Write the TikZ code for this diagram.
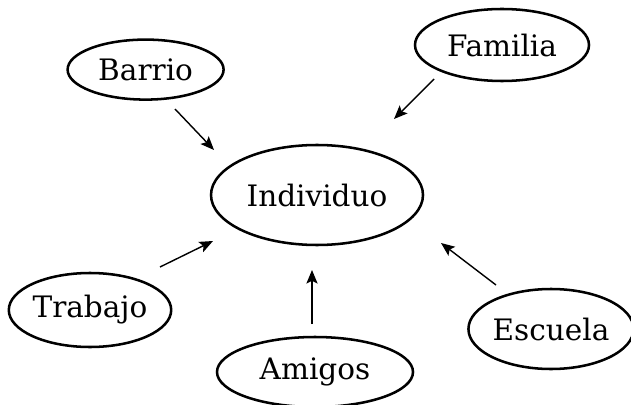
\documentclass[tikz,border=0pt]{standalone}
\usepackage{fontspec}
\setmainfont{DejaVu Serif}
\usetikzlibrary{shapes.geometric,arrows.meta}
\begin{document}
\begin{tikzpicture}[
        bubble/.style={ellipse, draw, line width=1.8pt, inner sep=0pt, font=\fontsize{21}{25}\selectfont},
        flow/.style={line width=1pt, -{Stealth[length=3.4mm,width=2.8mm,inset=0.7mm]}}
    ]
        \useasboundingbox (0,0) rectangle (15.775,10.1);

        \node[bubble, minimum width=5.3cm, minimum height=2.5cm] (ind) at (7.925, 5.225) {Individuo};
        \node[bubble, minimum width=3.9cm, minimum height=1.5cm] (barrio) at (3.64, 8.36) {Barrio};
        \node[bubble, minimum width=4.35cm, minimum height=1.8cm] (familia) at (12.55, 8.975) {Familia};
        \node[bubble, minimum width=3.85cm, minimum height=1.85cm] (trabajo) at (2.25, 2.35) {Trabajo};
        \node[bubble, minimum width=4.9cm, minimum height=1.75cm] (amigos) at (7.875, 0.8) {Amigos};
        \node[bubble, minimum width=4.05cm, minimum height=2cm] (escuela) at (13.775, 1.875) {Escuela};

        \coordinate (barrio-out) at (4.375, 7.375);
        \coordinate (barrio-in) at (5.35, 6.35);
        \coordinate (familia-out) at (10.85, 8.125);
        \coordinate (familia-in) at (9.85, 7.125);
        \coordinate (trabajo-out) at (4.0, 3.425);
        \coordinate (trabajo-in) at (5.325, 4.075);
        \coordinate (amigos-out) at (7.8, 2.0);
        \coordinate (amigos-in) at (7.8, 3.35);
        \coordinate (escuela-out) at (12.4, 2.975);
        \coordinate (escuela-in) at (11.025, 4.025);

        \draw[flow] (barrio-out) -- (barrio-in);
        \draw[flow] (familia-out) -- (familia-in);
        \draw[flow] (trabajo-out) -- (trabajo-in);
        \draw[flow] (amigos-out) -- (amigos-in);
        \draw[flow] (escuela-out) -- (escuela-in);

    \end{tikzpicture}
\end{document}
